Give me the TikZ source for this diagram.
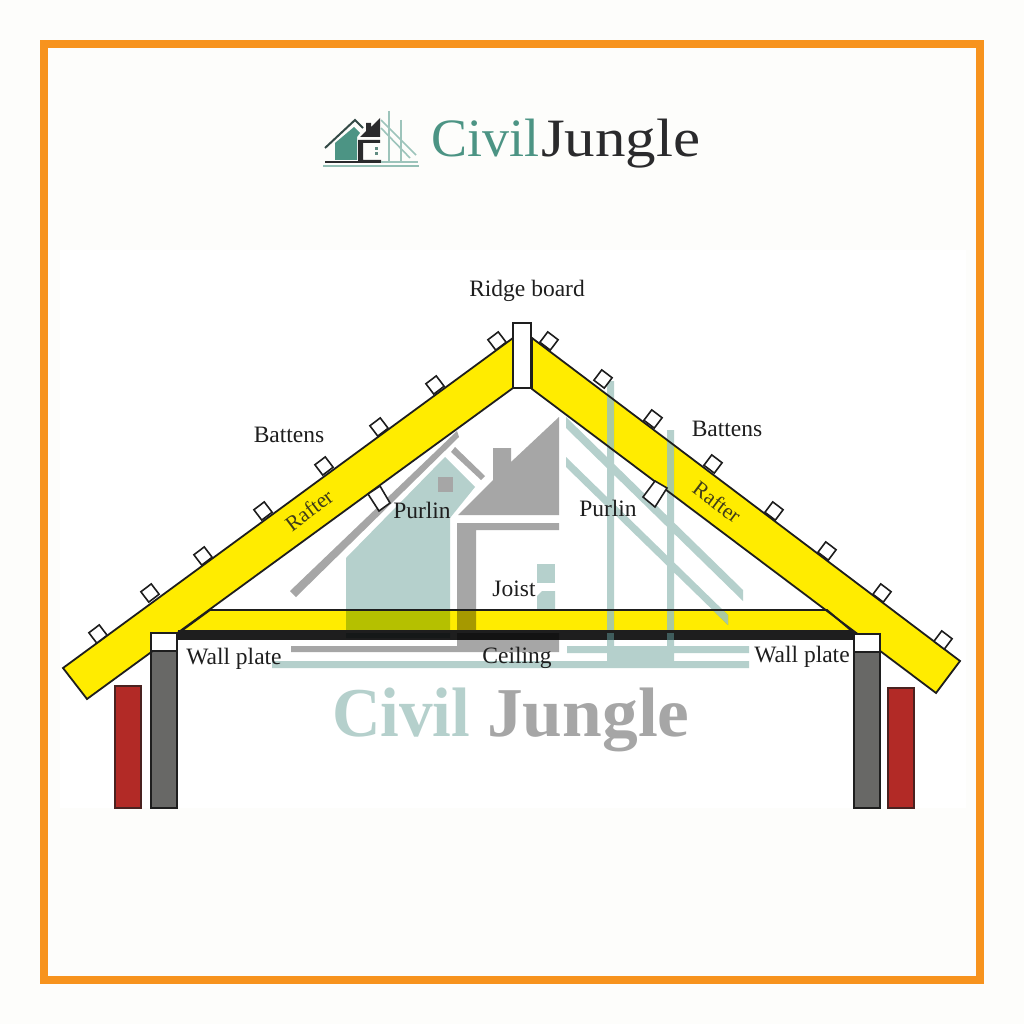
\documentclass[tikz,border=0pt]{standalone}
\usepackage{fontspec}
\setmainfont{Liberation Serif}
\definecolor{framecol}{HTML}{F7931E}
\definecolor{paper}{HTML}{FDFDFB}
\definecolor{raftercol}{HTML}{FFEC00}
\definecolor{wallcol}{HTML}{686866}
\definecolor{brickcol}{HTML}{B22A26}
\definecolor{inkcol}{HTML}{1E1E1E}
\definecolor{wmteal}{HTML}{B5D0CC}
\definecolor{wmgrey}{HTML}{A6A6A6}
\definecolor{wmonyellow}{HTML}{AAC9A0}
\definecolor{wmondark}{HTML}{3F5C5C}
\definecolor{logoteal}{HTML}{4C9484}
\definecolor{logodark}{HTML}{2A2A2C}
\tikzset{
  timberfill/.style={fill=raftercol,draw=none},
  timberline/.style={draw=inkcol,line width=1.8pt,line join=miter},
  batten/.style={draw=inkcol,line width=1.6pt,fill=white,minimum width=13pt,minimum height=13pt,inner sep=0pt,shape=rectangle},
  purlin/.style={draw=inkcol,line width=1.6pt,fill=white},
  plate/.style={draw=inkcol,line width=1.8pt,fill=white},
  wall/.style={draw=inkcol,line width=1.8pt,fill=wallcol},
  brick/.style={draw=inkcol!70!brickcol,line width=1.6pt,fill=brickcol},
  wmT/.style={fill=wmteal,draw=none,blend mode=multiply},
  wmG/.style={fill=wmgrey,draw=none,blend mode=multiply},
  lab/.style={font=\fontsize{23.5}{25}\selectfont,text=inkcol,inner sep=0pt},
  rafterlab/.style={font=\fontsize{21.5}{23}\selectfont,text=inkcol!85!raftercol,inner sep=0pt},
  lgT/.style={fill=logoteal,draw=none},
  lgD/.style={fill=logodark,draw=none},
  lgL/.style={draw=logoteal!55!white,line width=1.6pt}
}
\newcommand{\joistpath}{(180,632) -- (210,610) -- (827,610) -- (853,632) -- cycle}
\newcommand{\raftL}{(513,338) -- (63,668) -- (87,699) -- (513,388) -- cycle}
\newcommand{\raftR}{(532,338) -- (960,661) -- (936,693) -- (532,389) -- cycle}
\begin{document}
\begin{tikzpicture}[x=1pt,y=-1pt]
\useasboundingbox (0,0) rectangle (1024,1024);
\fill[paper] (0,0) rectangle (1024,1024);
\fill[white] (60,250) rectangle (966,808);
\draw[framecol,line width=8pt] (44,44) rectangle (980,980);

% logo icon
\fill[lgT] (335,160) -- (335,143) -- (354,127) -- (360,133) -- (357,137) -- (357,160) -- cycle;
\draw[logodark!70!logoteal,line width=2pt] (325,148) -- (355,120) -- (363,128);
\fill[lgD] (360,137) -- (366,131) -- (366,123) -- (371,123) -- (371,127) -- (380,118) -- (380,137) -- cycle;
\fill[lgD] (358,140) -- (380,140) -- (380,143) -- (363,143) -- (363,160) -- (381,160) -- (381,163) -- (358,163) -- cycle;
\fill[logoteal!60!gray] (375,147) rectangle (378,150);
\fill[logoteal!60!gray] (375,152) rectangle (378,155);
\draw[lgL] (381,120) -- (416,155);
\draw[lgL] (381,128) -- (410,158);
\draw[lgL] (389,111) -- (389,163);
\draw[lgL] (401,120) -- (401,163);
\draw[logodark,line width=1.6pt] (325,162) -- (381,162);
\draw[lgL] (381,162) -- (418,162);
\draw[logoteal!60!white,line width=2.6pt] (323,166) -- (419,166);
\node[anchor=base west,inner sep=0pt,text=logoteal,font=\fontsize{54}{54}\selectfont] (logoa) at (431,157) {Civil};
\node[anchor=base west,inner sep=0pt,text=logodark,font=\fontsize{54}{54}\selectfont,xscale=1.13] (logob) at (541,157) {Jungle};

% timber fills
\fill[timberfill] \joistpath;
\fill[inkcol] (178,631) rectangle (854,640);
\fill[timberfill] \raftL;
\fill[timberfill] \raftR;

% walls
\draw[wall] (151,651) rectangle (177,808);
\draw[brick] (115,686) rectangle (141,808);
\draw[wall] (854,652) rectangle (880,808);
\draw[brick] (888,688) rectangle (914,808);

% watermark
\fill[wmT] (346,558) -- (445,457) -- (475,487) -- (450,518) -- (450,638) -- (346,638) -- cycle;
\fill[wmG] (290,591) -- (457,431) -- (459,437) -- (296,597) -- cycle;
\fill[wmG] (451,452) -- (455,447) -- (485,476) -- (481,480) -- cycle;
\fill[wmG] (458,515) -- (493,480) -- (493,448) -- (511,448) -- (511,462) -- (559,417) -- (559,515) -- cycle;
\fill[wmG] (457,523) -- (559,523) -- (559,530) -- (476,530) -- (476,632) -- (559,632) -- (559,652) -- (291,652) -- (291,646) -- (457,646) -- cycle;
\fill[wmgrey] (438,477) rectangle (453,492);
\fill[wmT] (537,564) rectangle (555,583);
\fill[wmT] (537,596) -- (542,591) -- (555,591) -- (555,609) -- (537,609) -- cycle;
% teal strips as one path, so that their crossings stay one tone
\fill[wmT] (566,417) -- (743,590) -- (743,601) -- (566,428) -- cycle
  (566,457) -- (728,615) -- (728,625) -- (566,467) -- cycle
  (607,381) -- (614,381) -- (614,646) -- (667,646) -- (667,430) -- (674,430) -- (674,646) -- (749,646) -- (749,653) -- (674,653) -- (674,661) -- (749,661) -- (749,668) -- (272,668) -- (272,661) -- (607,661) -- (607,653) -- (567,653) -- (567,646) -- (607,646) -- cycle;
% teal bars over the timber
\begin{scope}
  \clip \raftR;
  \fill[wmonyellow] (607,370) rectangle (614,480);
  \fill[wmonyellow] (667,420) rectangle (674,530);
\end{scope}
\begin{scope}
  \clip \joistpath;
  \fill[wmonyellow] (607,600) rectangle (614,640);
  \fill[wmonyellow] (667,600) rectangle (674,640);
  \fill[wmonyellow] (700,588) -- (728,615) -- (728,625) -- (700,598) -- cycle;
\end{scope}
\fill[wmondark] (607,632) rectangle (614,640);
\fill[wmondark] (667,632) rectangle (674,640);
\node[anchor=base west,inner sep=0pt,text=wmteal,font=\bfseries\fontsize{70}{70}\selectfont,xscale=.96] (wma) at (332,736) {Civil};
\node[anchor=base west,inner sep=0pt,text=wmgrey,font=\bfseries\fontsize{70}{70}\selectfont,xscale=1.02] (wmb) at (487,736) {Jungle};

% timber outlines
\draw[timberline] \joistpath;
\draw[inkcol,line width=1.5pt] (178,631) -- (854,631);
\draw[timberline] \raftL;
\draw[timberline] \raftR;
\draw[plate] (513,323) rectangle (531,388);
\draw[plate] (151,633) rectangle (177,651);
\draw[plate] (854,634) rectangle (880,652);
\draw[inkcol,line width=2.4pt] (151,651) -- (177,651);
\draw[inkcol,line width=2.4pt] (854,652) -- (880,652);

% battens
\foreach \n/\bx/\by in {a/98/634,b/150/593,c/203/556,d/263/511,e/324/466,f/379/427,g/435/385,h/497/341}
  \node[batten,rotate=37] (bl\n) at (\bx,\by) {};
\foreach \n/\bx/\by in {a/549/341,b/603/379,c/653/419,d/713/464,e/774/511,f/827/551,g/882/593,h/943/640}
  \node[batten,rotate=-37] (br\n) at (\bx,\by) {};

% purlins
\draw[purlin] (368,494) -- (380,486) -- (390,503) -- (379,511) -- cycle;
\draw[purlin] (643,497) -- (655,481) -- (667,488) -- (655,507) -- cycle;

% labels
\node[lab] (ridge) at (527,291) {Ridge board};
\node[lab] (battenl) at (289,435) {Battens};
\node[lab] (battenr) at (727,429) {Battens};
\node[rafterlab,rotate=37] (rafl) at (309,510) {Rafter};
\node[rafterlab,rotate=-37] (rafr) at (717,502) {Rafter};
\node[lab] (purl) at (422,510) {Purlin};
\node[lab] (purr) at (608,508) {Purlin};
\node[lab] (joist) at (514,589) {Joist};
\node[lab] (ceil) at (517,658) {Ceiling};
\node[lab] (wpl) at (234,659) {Wall plate};
\node[lab] (wpr) at (802,657) {Wall plate};
\end{tikzpicture}
\end{document}
